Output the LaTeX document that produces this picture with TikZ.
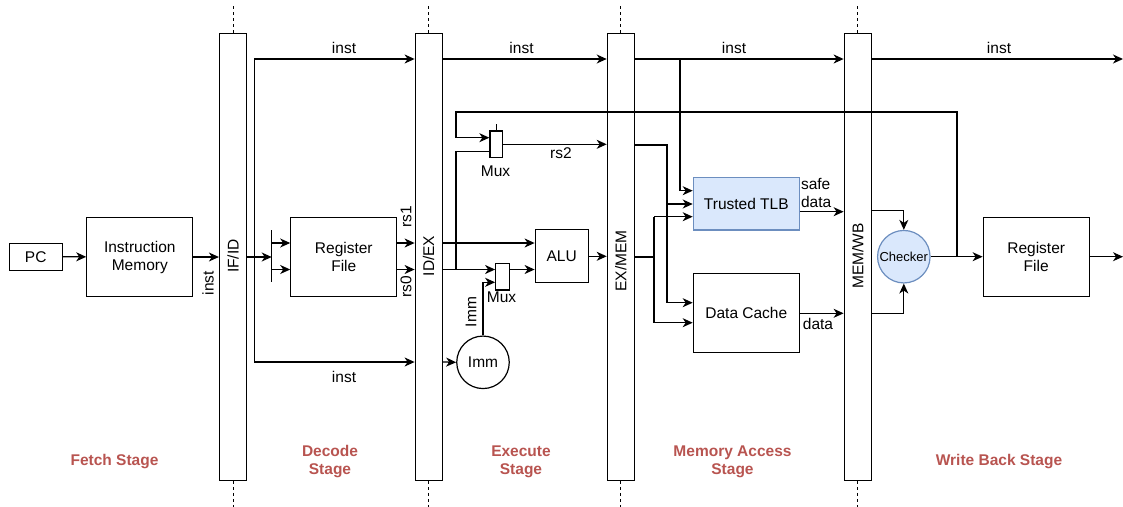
\documentclass[tikz,border=0pt]{standalone}
\usepackage{fontspec}
\setmainfont{Liberation Sans}
\usetikzlibrary{calc, positioning, arrows.meta}

\definecolor{stagered}{HTML}{B85450}
\definecolor{tlbfill}{HTML}{DAE8FC}
\definecolor{tlbdraw}{HTML}{6C8EBF}

\tikzset{
  box/.style={draw, line width=1.2pt, align=center, inner sep=2pt},
  pipereg/.style={draw, line width=1.2pt, minimum width=27pt, minimum height=447pt, inner sep=0pt},
  wire/.style={line width=1.25pt, -{Stealth[length=10pt,width=9pt,inset=3pt]}},
  link/.style={line width=1.25pt},
  stagelbl/.style={font=\fontsize{15.5}{18}\selectfont\bfseries, text=stagered, align=center},
  sep/.style={line width=1pt, dash pattern=on 3pt off 3pt},
}

\begin{document}
\begin{tikzpicture}[x=1pt, y=-1pt, font=\fontsize{15.5}{18}\selectfont]
  \useasboundingbox (0,0) rectangle (1123,506);

  % rows and columns of the wiring
  \coordinate (yinst) at (0,59);
  \coordinate (ytop) at (0,112);
  \coordinate (ymuxin) at (0,137.7);
  \coordinate (yrs2) at (0,144.3);
  \coordinate (yexa) at (0,145);
  \coordinate (ymuxlow) at (0,151.7);
  \coordinate (ytlba) at (0,190.7);
  \coordinate (ytlbb) at (0,204);
  \coordinate (ychka) at (0,210.7);
  \coordinate (ytlbout) at (0,211.7);
  \coordinate (ytlbc) at (0,216.7);
  \coordinate (yrs1) at (0,243);
  \coordinate (ymain) at (0,257);
  \coordinate (yrs0) at (0,269.5);
  \coordinate (yimmin) at (0,282.3);
  \coordinate (ydca) at (0,302.7);
  \coordinate (ydcout) at (0,313.3);
  \coordinate (ychkb) at (0,313.3);
  \coordinate (ydcb) at (0,322.7);
  \coordinate (yimm) at (0,362);
  \coordinate (xfork) at (254.3,0);
  \coordinate (xfb) at (456,0);
  \coordinate (xmb) at (654,0);
  \coordinate (xma) at (667,0);
  \coordinate (xtap) at (680,0);
  \coordinate (xret) at (957,0);

  % pipeline registers
  \node[pipereg] (ifid) at (233,256.8) {};
  \node[pipereg] (idex) at (428.7,256.8) {};
  \node[pipereg] (exmem) at (620.8,256.8) {};
  \node[pipereg] (memwb) at (857.7,256.8) {};
  \node[rotate=90] (lifid) at (233,256) {IF/ID};
  \node[rotate=90] (lidex) at (428.7,256) {ID/EX};
  \node[rotate=90] (lexmem) at (620.8,261) {EX/MEM};
  \node[rotate=90] (lmemwb) at (857.7,256) {MEM/WB};
  \foreach \r in {ifid,idex,exmem,memwb}{
    \draw[sep] (\r.north) -- ++(0,-27);
    \draw[sep] (\r.south) -- ++(0,26);
  }

  % Fetch
  \node[box, minimum width=53pt, minimum height=27pt] (pc) at (35.7,256.7) {PC};
  \node[box, minimum width=106pt, minimum height=79pt] (imem) at (139.8,257) {Instruction\\Memory};
  \draw[wire] (pc) -- (imem);
  \draw[wire] (imem) -- (imem -| ifid.west);
  \node[rotate=90] (lifinst) at (208,283) {inst};

  % Decode
  \node[box, minimum width=106pt, minimum height=79pt] (rfd) at (343.8,256.7) {Register\\File};
  \coordinate (spltop) at (271.7,230);
  \coordinate (splbot) at (271.7,282.3);
  \draw[link] (spltop) -- (splbot);
  \draw[wire] (ifid.east |- ymain) -- (spltop |- ymain);
  \draw[wire] (spltop |- yrs1) -- (rfd.west |- yrs1);
  \draw[wire] (spltop |- yrs0) -- (rfd.west |- yrs0);
  \draw[link] (xfork |- yinst) -- (xfork |- yimm);
  \draw[wire] (xfork |- yinst) -- (idex.west |- yinst);
  \draw[wire] (xfork |- yimm) -- (idex.west |- yimm);
  \draw[wire] (rfd.east |- yrs1) -- (idex.west |- yrs1);
  \draw[wire] (rfd.east |- yrs0) -- (idex.west |- yrs0);
  \node (linsta) at (344,48) {inst};
  \node (linstb) at (344,376.5) {inst};
  \node[rotate=90] (lrs1) at (406,216.5) {rs1};
  \node[rotate=90] (lrs0) at (406,286.5) {rs0};

  % Execute
  \node[box, minimum width=53pt, minimum height=53pt] (alu) at (561.7,256.3) {ALU};
  \node[box, minimum width=12.7pt, minimum height=26.7pt, inner sep=0pt] (muxa) at (496.3,144.3) {};
  \node[box, minimum width=13.6pt, minimum height=26.7pt, inner sep=0pt] (muxb) at (502.5,276.7) {};
  \node[box, circle, minimum size=52.5pt, inner sep=0pt] (imm) at (483,362.3) {Imm};
  \draw[link] (muxa.north) -- ++(0,-6);
  \draw[wire] (idex.east |- yinst) -- (exmem.west |- yinst);
  \draw[wire] (idex.east |- yrs1) -- (alu.west |- yrs1);
  \draw[wire] (idex.east |- yrs0) -- (muxb.west |- yrs0);
  \draw[link] (xfb |- yrs0) -- (xfb |- ymuxlow) -- (muxa.west |- ymuxlow);
  \draw[wire] (xret |- ymain) -- (xret |- ytop) -- (xfb |- ytop) -- (xfb |- ymuxin) -- (muxa.west |- ymuxin);
  \draw[wire] (muxa.east |- yrs2) -- (exmem.west |- yrs2);
  \draw[wire] (muxb.east |- yrs0) -- (alu.west |- yrs0);
  \draw[wire] (imm.north) -- (imm.north |- yimmin) -- (muxb.west |- yimmin);
  \draw[wire] (idex.east |- yimm) -- (imm.west);
  \draw[wire] (alu) -- (alu -| exmem.west);
  \node (linstc) at (521.5,48) {inst};
  \node (lrs2) at (561,153.5) {rs2};
  \node (lmuxa) at (495.5,171.5) {Mux};
  \node (lmuxb) at (501.5,297) {Mux};
  \node[rotate=90] (limm) at (471,312) {Imm};

  % Memory access
  \node[box, fill=tlbfill, draw=tlbdraw, minimum width=106pt, minimum height=52.7pt] (tlb) at (746.3,203.7) {Trusted TLB};
  \node[box, minimum width=106pt, minimum height=79.3pt] (dcache) at (746.3,313) {Data Cache};
  \draw[wire] (exmem.east |- yinst) -- (memwb.west |- yinst);
  \draw[wire] (xtap |- yinst) -- (xtap |- ytlba) -- (tlb.west |- ytlba);
  \draw[link] (exmem.east |- yexa) -- (xma |- yexa) -- (xma |- ydca);
  \draw[wire] (xma |- ytlbb) -- (tlb.west |- ytlbb);
  \draw[wire] (xma |- ydca) -- (dcache.west |- ydca);
  \draw[link] (exmem.east |- ymain) -- (xmb |- ymain);
  \draw[link] (xmb |- ytlbc) -- (xmb |- ydcb);
  \draw[wire] (xmb |- ytlbc) -- (tlb.west |- ytlbc);
  \draw[wire] (xmb |- ydcb) -- (dcache.west |- ydcb);
  \draw[wire] (tlb.east |- ytlbout) -- (memwb.west |- ytlbout);
  \draw[wire] (dcache.east |- ydcout) -- (memwb.west |- ydcout);
  \node (linstd) at (734,48) {inst};
  \node[align=left, anchor=west] (lsafe) at (797.5,192.5) {safe\\data};
  \node (ldata) at (818,323.5) {data};

  % Write back
  \node[box, circle, fill=tlbfill, draw=tlbdraw, minimum size=52.5pt, inner sep=0pt, font=\fontsize{13}{15}\selectfont] (chk) at (903.8,256.7) {Checker};
  \node[box, minimum width=106pt, minimum height=79pt] (rfw) at (1036.2,256.7) {Register\\File};
  \coordinate (outrf) at (1123,256.7);
  \coordinate (outinst) at (1123,59);
  \draw[wire] (memwb.east |- ychka) -| (chk.north);
  \draw[wire] (memwb.east |- ychkb) -| (chk.south);
  \draw[wire] (chk) -- (rfw);
  \draw[wire] (rfw) -- (outrf);
  \draw[wire] (memwb.east |- yinst) -- (outinst);
  \node (linste) at (999,48) {inst};

  % stage names
  \node[stagelbl] (sfetch) at (114.5,462) {Fetch Stage};
  \node[stagelbl] (sdecode) at (330,462) {Decode\\Stage};
  \node[stagelbl] (sexec) at (521,462) {Execute\\Stage};
  \node[stagelbl] (smem) at (732.5,462) {Memory Access\\Stage};
  \node[stagelbl] (swb) at (999,462) {Write Back Stage};
\end{tikzpicture}
\end{document}
